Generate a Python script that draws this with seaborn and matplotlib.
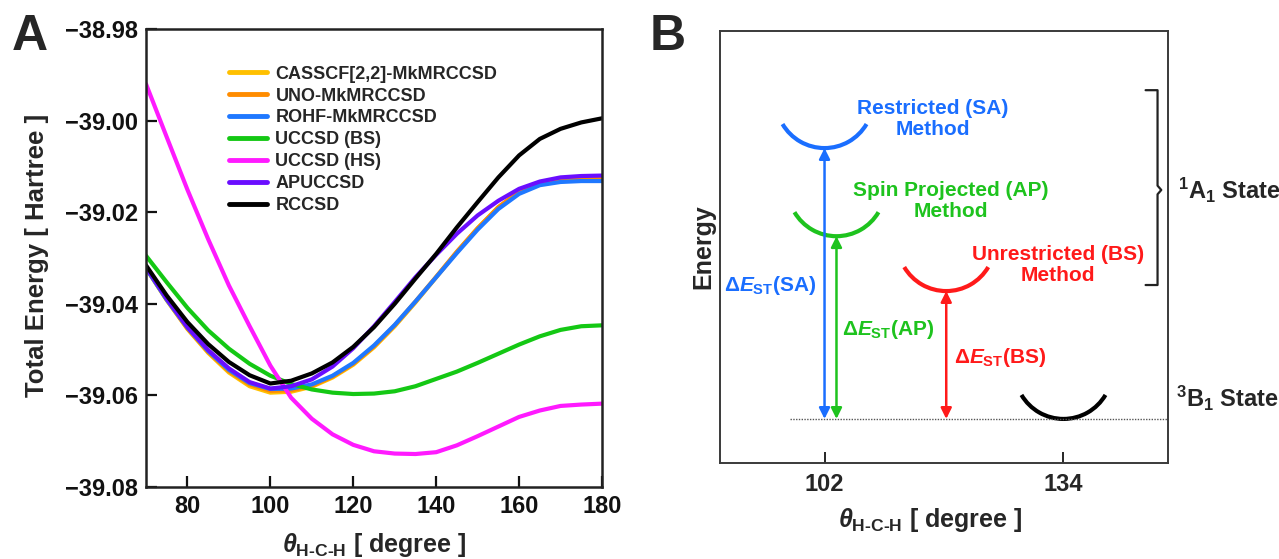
import numpy as np
import pandas as pd
import matplotlib
matplotlib.use("Agg")
import matplotlib.pyplot as plt
from matplotlib.patches import Arc
import seaborn as sns

# ---------------- Panel A data: potential energy curves of CH2 ----------------
angles = [70, 75, 80, 85, 90, 95, 100, 105, 110, 115, 120, 125, 130,
          135, 140, 145, 150, 155, 160, 165, 170, 175, 180]

casscf_mk = [-39.0322, -39.0392, -39.0455, -39.0507, -39.0550, -39.0580, -39.0594,
             -39.0592, -39.0581, -39.0561, -39.0533, -39.0495, -39.0449, -39.0397,
             -39.0342, -39.0287, -39.0235, -39.0189, -39.0155, -39.0136, -39.0128,
             -39.0126, -39.0126]
uno_mk = [-39.0322, -39.0391, -39.0454, -39.0505, -39.0547, -39.0576, -39.0590,
          -39.0589, -39.0579, -39.0559, -39.0531, -39.0493, -39.0447, -39.0395,
          -39.0341, -39.0286, -39.0235, -39.0189, -39.0156, -39.0137, -39.0129,
          -39.0126, -39.0126]
rohf_mk = [-39.0322, -39.0391, -39.0452, -39.0503, -39.0544, -39.0573, -39.0586,
           -39.0585, -39.0576, -39.0557, -39.0529, -39.0491, -39.0446, -39.0395,
           -39.0342, -39.0289, -39.0238, -39.0193, -39.0160, -39.0141, -39.0134,
           -39.0132, -39.0132]
uccsd_bs = [-39.0295, -39.0353, -39.0409, -39.0458, -39.0498, -39.0531, -39.0557,
            -39.0575, -39.0587, -39.0594, -39.0597, -39.0596, -39.0591, -39.0580,
            -39.0564, -39.0548, -39.0529, -39.0509, -39.0489, -39.0471, -39.0457,
            -39.0449, -39.0447]
uccsd_hs = [-38.9920, -39.0036, -39.0151, -39.0259, -39.0360, -39.0449, -39.0535,
            -39.0605, -39.0651, -39.0685, -39.0708, -39.0722, -39.0727, -39.0728,
            -39.0724, -39.0709, -39.0689, -39.0668, -39.0647, -39.0633, -39.0623,
            -39.0620, -39.0618]
apuccsd = [-39.0320, -39.0389, -39.0451, -39.0501, -39.0541, -39.0571, -39.0585,
           -39.0580, -39.0565, -39.0537, -39.0497, -39.0449, -39.0396, -39.0342,
           -39.0293, -39.0247, -39.0207, -39.0175, -39.0149, -39.0133, -39.0124,
           -39.0121, -39.0120]
rccsd = [-39.0316, -39.0382, -39.0440, -39.0488, -39.0527, -39.0556, -39.0574,
         -39.0568, -39.0552, -39.0528, -39.0494, -39.0451, -39.0400, -39.0345,
         -39.0291, -39.0233, -39.0178, -39.0124, -39.0076, -39.0040, -39.0018,
         -39.0004, -38.9995]

methods = ["CASSCF[2,2]-MkMRCCSD", "UNO-MkMRCCSD", "ROHF-MkMRCCSD",
           "UCCSD (BS)", "UCCSD (HS)", "APUCCSD", "RCCSD"]
series = [casscf_mk, uno_mk, rohf_mk, uccsd_bs, uccsd_hs, apuccsd, rccsd]
colors = ["#FFC000", "#FF8C00", "#1F78FF", "#14C814", "#FF1AFF", "#6A0DFF", "#000000"]

y_ticks_a = [-38.98, -39.00, -39.02, -39.04, -39.06, -39.08]
x_ticks_a = [80, 100, 120, 140, 160, 180]

# ---------------- Panel B data: schematic singlet-triplet gaps ----------------
state_names = ["SA", "AP", "BS", "T"]
state_angle = [102.0, 103.6, 118.3, 134.0]    # position of each well minimum
state_energy = [7.29, 5.25, 3.98, 1.02]       # well minimum (arbitrary units)
state_colors = ["#1A6EFF", "#1EC31E", "#FF1A1A", "#000000"]
method_labels = ["Restricted (SA)\nMethod", "Spin Projected (AP)\nMethod",
                 "Unrestricted (BS)\nMethod"]
gap_labels = [r"$\mathit{Δ}\mathit{E}_{\mathrm{ST}}$(SA)",
              r"$\mathit{Δ}\mathit{E}_{\mathrm{ST}}$(AP)",
              r"$\mathit{Δ}\mathit{E}_{\mathrm{ST}}$(BS)"]
x_ticks_b = [102, 134]

# ---------------- style ----------------
sns.set_theme(style="ticks")
plt.rcParams["font.family"] = ["Liberation Sans", "DejaVu Sans"]
plt.rcParams.update({
    "font.weight": "bold",
    "axes.labelweight": "bold",
    "mathtext.fontset": "custom",
    "mathtext.rm": "Liberation Sans:bold",
    "mathtext.bf": "Liberation Sans:bold",
    "mathtext.it": "Liberation Sans:italic:bold",
    "mathtext.sf": "Liberation Sans:bold",
    "axes.unicode_minus": True,
})

fig = plt.figure(figsize=(12.79, 5.59), dpi=100)
ax_a = fig.add_axes([146 / 1279, 72 / 559, 456 / 1279, 458 / 559])
ax_b = fig.add_axes([720 / 1279, 96 / 559, 448 / 1279, 432 / 559])

# ---------------- Panel A ----------------
records = []
for name, vals in zip(methods, series):
    for a, e in zip(angles, vals):
        records.append({"angle": a, "energy": e, "method": name})
df = pd.DataFrame(records)

sns.lineplot(data=df, x="angle", y="energy", hue="method", hue_order=methods,
             palette=dict(zip(methods, colors)), linewidth=3.0, ax=ax_a,
             estimator=None, sort=True)
for ln in ax_a.get_lines():
    ln.set_solid_joinstyle("round")

ax_a.set_xlim(70, 180)
ax_a.set_ylim(-39.08, -38.98)
ax_a.set_xticks(x_ticks_a)
ax_a.set_yticks(y_ticks_a)
ax_a.set_yticklabels([f"{v:.2f}".replace("-", "\u2212") for v in y_ticks_a])
ax_a.tick_params(direction="in", length=8, width=1.6, labelsize=17, pad=6,
                 colors="#111111")
for s in ax_a.spines.values():
    s.set_linewidth(1.8)
    s.set_color("#222222")
    s.set_visible(True)

ax_a.set_xlabel(r"$\mathit{\theta}_{\mathrm{H\text{-}C\text{-}H}}$ [ degree ]", fontsize=18)
ax_a.xaxis.label.set_va("center")
ax_a.xaxis.set_label_coords(0.5, -0.126)
ax_a.set_ylabel("Total Energy [ Hartree ]", fontsize=18.5)
ax_a.yaxis.label.set_va("center")
ax_a.yaxis.set_label_coords(-0.239, 0.505)

leg = ax_a.legend(loc="upper left", bbox_to_anchor=(0.183, 0.92), frameon=False,
                  fontsize=13, handlelength=2.1, handletextpad=0.45,
                  labelspacing=0.27, borderpad=0, borderaxespad=0)
for h in leg.get_lines():
    h.set_linewidth(3.5)
for t in leg.get_texts():
    t.set_fontweight("bold")

fig.text(12 / 1279, 1 - 37 / 559, "A", fontsize=36, fontweight="bold", va="center")
fig.text(650 / 1279, 1 - 37 / 559, "B", fontsize=36, fontweight="bold", va="center")

# ---------------- Panel B ----------------
ax_b.set_xlim(88, 148)
ax_b.set_ylim(0, 10)
ax_b.set_xticks(x_ticks_b)
ax_b.set_yticks([])
ax_b.tick_params(axis="x", direction="in", length=8, width=1.4, labelsize=17, pad=7)
for s in ax_b.spines.values():
    s.set_linewidth(1.4)
    s.set_color("#3a3a3a")
    s.set_visible(True)

# wells drawn as circular arcs on screen (half-width 42 px, rise 24 px)
px_x = 448 / 60.0     # pixels per degree
px_y = 432 / 10.0     # pixels per energy unit
radius_px = (42 ** 2 + 24 ** 2) / (2 * 24)
half_t = np.arcsin(42 / radius_px)
w_data = 2 * radius_px / px_x
h_data = 2 * radius_px / px_y
# Arc angles are given in the stretched data frame, convert from parametric
t1, t2 = 1.5 * np.pi - half_t, 1.5 * np.pi + half_t
th1 = np.degrees(np.arctan2(h_data * np.sin(t1), w_data * np.cos(t1))) % 360
th2 = np.degrees(np.arctan2(h_data * np.sin(t2), w_data * np.cos(t2))) % 360
for a, e, c in zip(state_angle, state_energy, state_colors):
    ax_b.add_patch(Arc((a, e + h_data / 2), w_data, h_data,
                       theta1=th1, theta2=th2, color=c, lw=3.0, capstyle="butt"))

# triplet reference level
base = state_energy[3]
ax_b.plot([97.4, 148], [base, base], ls=(0, (1, 1)), color="#555555", lw=1.0)

# double-headed gap arrows
for a, e, c in zip(state_angle[:3], state_energy[:3], state_colors[:3]):
    ax_b.annotate("", xy=(a, e), xytext=(a, base),
                  arrowprops=dict(arrowstyle="<|-|>", color=c, lw=1.8,
                                  mutation_scale=16, shrinkA=0, shrinkB=0))

# method names
method_pos = [(116.5, 7.97), (118.9, 6.06), (133.3, 4.58)]
for (x, y), txt, c in zip(method_pos, method_labels, state_colors[:3]):
    ax_b.text(x, y, txt, color=c, fontsize=15, fontweight="bold",
              ha="center", va="center", linespacing=1.15)

# gap labels
gap_pos = [(100.9, 4.12, "right"), (104.4, 3.08, "left"), (119.3, 2.45, "left")]
for (x, y, ha), txt, c in zip(gap_pos, gap_labels, state_colors[:3]):
    ax_b.text(x, y, txt, color=c, fontsize=15, fontweight="bold", ha=ha, va="center")

# bracket grouping the singlet states
bx = [145.0, 146.6, 146.6, 147.1, 146.6, 146.6, 145.0]
by = [8.63, 8.63, 6.42, 6.32, 6.22, 4.12, 4.12]
ax_b.plot(bx, by, color="#222222", lw=1.6, clip_on=False, solid_joinstyle="round")

ax_b.text(149.3, 6.32, r"$^{1}$A$_{1}$ State", fontsize=17, fontweight="bold",
          ha="left", va="center", clip_on=False)
ax_b.text(149.1, 1.5, r"$^{3}$B$_{1}$ State", fontsize=17, fontweight="bold",
          ha="left", va="center", clip_on=False)

ax_b.set_xlabel(r"$\mathit{\theta}_{\mathrm{H\text{-}C\text{-}H}}$ [ degree ]", fontsize=18)
ax_b.xaxis.label.set_va("center")
ax_b.xaxis.set_label_coords(0.47, -0.132)
ax_b.set_ylabel("Energy", fontsize=18)
ax_b.yaxis.label.set_va("center")
ax_b.yaxis.set_label_coords(-0.038, 0.5)

fig.savefig("out.png", dpi=100)
